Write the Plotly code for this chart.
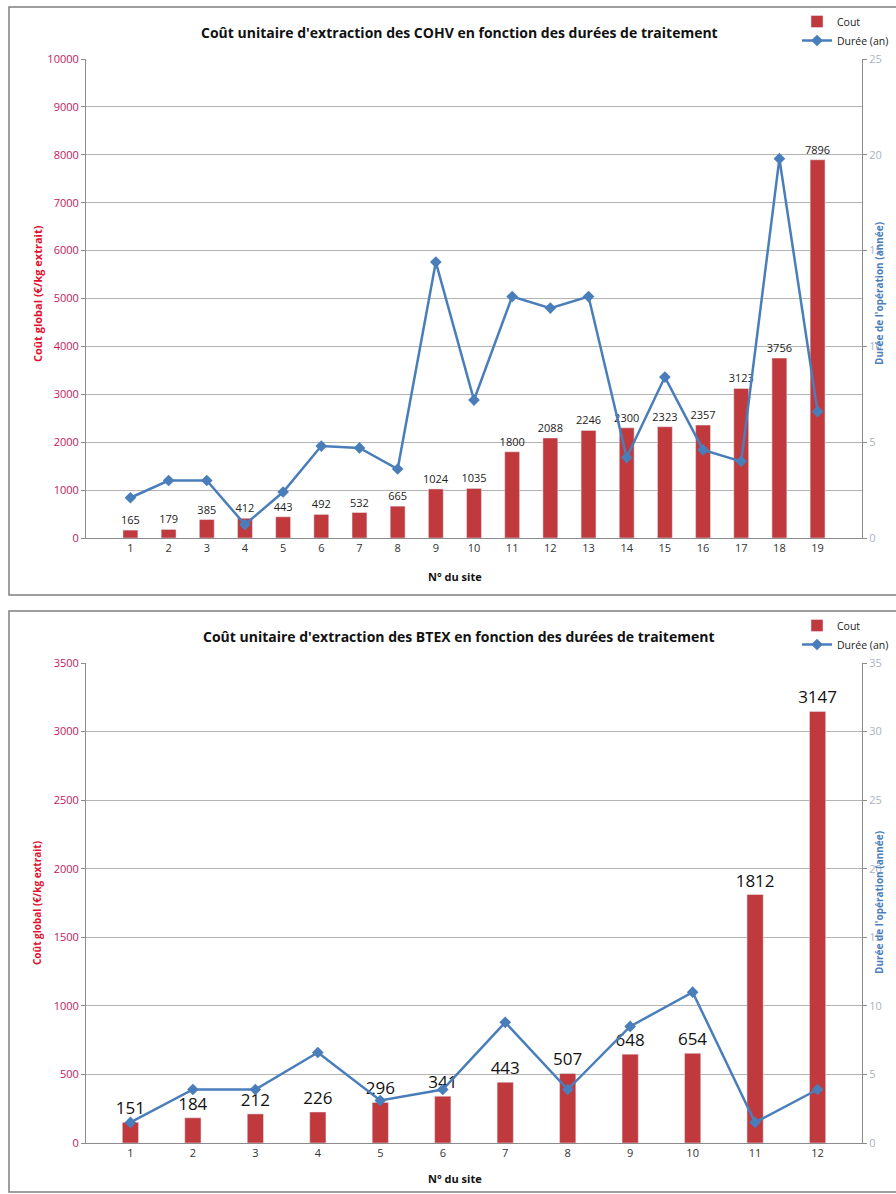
import plotly.graph_objects as go

# COHV sites
cohv_sites = [str(i) for i in range(1, 20)]
cohv_cost = [165, 179, 385, 412, 443, 492, 532, 665, 1024, 1035, 1800, 2088,
             2246, 2300, 2323, 2357, 3123, 3756, 7896]
cohv_duration = [2.1, 3.0, 3.0, 0.7, 2.4, 4.8, 4.7, 3.6, 14.4, 7.2, 12.6, 12.0,
                 12.6, 4.2, 8.4, 4.6, 4.0, 19.8, 6.6]

# BTEX sites
btex_sites = [str(i) for i in range(1, 13)]
btex_cost = [151, 184, 212, 226, 296, 341, 443, 507, 648, 654, 1812, 3147]
btex_duration = [1.5, 3.9, 3.9, 6.6, 3.1, 3.9, 8.8, 3.9, 8.5, 11.0, 1.5, 3.9]

W, H = 896, 1194
BAR = "#C0393C"
LINE = "#4A7EBB"
LEFT_TICK = "#C2185B"
RIGHT_TICK = "#A9B2C6"
GRID = "#B4B4B4"
FONT = "Open Sans"


def px(x):
    return x / W


def py(y):
    return 1 - y / H


fig = go.Figure()

# top chart
fig.add_trace(go.Bar(
    x=cohv_sites, y=cohv_cost, name="Cout", marker_color=BAR, width=0.39,
    text=[str(v) for v in cohv_cost], textposition="outside", constraintext="none",
    textfont=dict(size=11, color="#222", family=FONT), cliponaxis=False,
    xaxis="x", yaxis="y", legend="legend",
))
fig.add_trace(go.Scatter(
    x=cohv_sites, y=cohv_duration, name="Durée (an)", mode="lines+markers",
    line=dict(color=LINE, width=2.5), marker=dict(symbol="diamond", size=9, color=LINE),
    xaxis="x", yaxis="y2", legend="legend",
))

# bottom chart
fig.add_trace(go.Bar(
    x=btex_sites, y=btex_cost, name="Cout", marker_color=BAR, width=0.26,
    text=[str(v) for v in btex_cost], textposition="outside", constraintext="none",
    textfont=dict(size=17, color="#111", family=FONT), cliponaxis=False,
    xaxis="x2", yaxis="y3", legend="legend2",
))
fig.add_trace(go.Scatter(
    x=btex_sites, y=btex_duration, name="Durée (an)", mode="lines+markers",
    line=dict(color=LINE, width=2.5), marker=dict(symbol="diamond", size=9, color=LINE),
    xaxis="x2", yaxis="y4", legend="legend2",
))

xdom = [px(86), px(862)]
top_dom = [py(538), py(59)]
bot_dom = [py(1143), py(663)]

xaxis_common = dict(
    showline=True, linecolor="#8C8C8C", linewidth=1, ticks="",
    tickfont=dict(size=11, color="#333", family=FONT), showgrid=False,
    fixedrange=True, automargin=False,
)
left_common = dict(
    showline=True, linecolor="#8C8C8C", linewidth=1, ticks="outside", ticklen=4,
    tickcolor="#8C8C8C", showgrid=True, gridcolor=GRID, gridwidth=1,
    tickfont=dict(size=11, color=LEFT_TICK, family=FONT), zeroline=False,
    tickformat="d", automargin=False,
)
right_common = dict(
    showline=True, linecolor="#8C8C8C", linewidth=1, ticks="outside", ticklen=4,
    tickcolor="#8C8C8C", showgrid=False, side="right",
    tickfont=dict(size=11, color=RIGHT_TICK, family=FONT), zeroline=False,
    automargin=False,
)

legend_common = dict(
    xanchor="left", yanchor="top", bgcolor="rgba(0,0,0,0)",
    font=dict(size=10.5, color="#222", family=FONT), tracegroupgap=0, itemwidth=30,
)

fig.update_layout(
    width=W, height=H, margin=dict(l=0, r=0, t=0, b=0, autoexpand=False),
    paper_bgcolor="white", plot_bgcolor="white",
    font=dict(family=FONT),
    xaxis=dict(domain=xdom, anchor="y", **xaxis_common),
    yaxis=dict(domain=top_dom, range=[0, 10000], dtick=1000, anchor="x", **left_common),
    yaxis2=dict(overlaying="y", range=[0, 25], dtick=5, anchor="x", **right_common),
    xaxis2=dict(domain=xdom, anchor="y3", **xaxis_common),
    yaxis3=dict(domain=bot_dom, range=[0, 3500], dtick=500, anchor="x2", **left_common),
    yaxis4=dict(overlaying="y3", range=[0, 35], dtick=5, anchor="x2", **right_common),
    legend=dict(x=px(797), y=py(7), **legend_common),
    legend2=dict(x=px(797), y=py(611), **legend_common),
)

# chart frames
for y0, y1 in [(7, 595), (611, 1192)]:
    fig.add_shape(type="rect", xref="paper", yref="paper",
                  x0=px(9), x1=px(905), y0=py(y1), y1=py(y0),
                  line=dict(color="#7F7F7F", width=1.5), fillcolor="rgba(0,0,0,0)")

titles = [
    ("Coût unitaire d'extraction des COHV en fonction des durées de traitement", 32),
    ("Coût unitaire d'extraction des BTEX en fonction des durées de traitement", 636),
]
for text, y in titles:
    fig.add_annotation(text=f"<b>{text}</b>", xref="paper", yref="paper",
                       x=px(459), y=py(y), showarrow=False,
                       xanchor="center", yanchor="middle",
                       font=dict(size=14, color="#111", family=FONT))

for y_mid, y_x, lsize in [(294, 576, 11), (903, 1178, 10)]:
    fig.add_annotation(text="<b>Coût global (€/kg extrait)</b>", xref="paper", yref="paper",
                       x=px(37), y=py(y_mid), showarrow=False, textangle=-90,
                       xanchor="center", yanchor="middle",
                       font=dict(size=lsize, color="#E0102E", family=FONT))
    fig.add_annotation(text="<b>Durée de l'opération (année)</b>", xref="paper", yref="paper",
                       x=px(879), y=py(y_mid), showarrow=False, textangle=-90,
                       xanchor="center", yanchor="middle",
                       font=dict(size=10, color=LINE, family=FONT))
    fig.add_annotation(text="<b>N° du site</b>", xref="paper", yref="paper",
                       x=px(455), y=py(y_x), showarrow=False,
                       xanchor="center", yanchor="middle",
                       font=dict(size=11, color="#111", family=FONT))

fig.write_html("out.html")
